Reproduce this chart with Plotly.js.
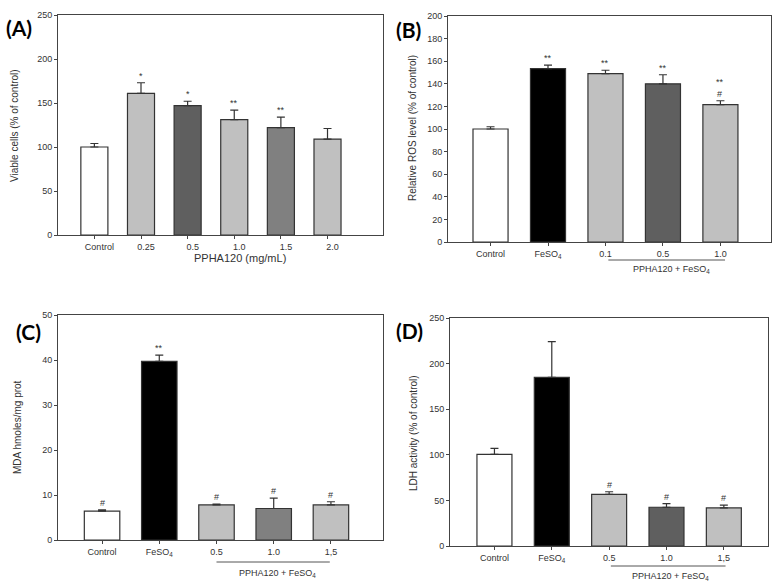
<!DOCTYPE html>
<html>
<head>
<meta charset="utf-8">
<script src="https://cdn.plot.ly/plotly-3.0.1.min.js"></script>
<style>html,body{margin:0;padding:0;background:#fff;}#chart{width:779px;height:587px;}</style>
</head>
<body>
<div id="chart"></div>
<script>
// ---------- data ----------
const catsA = ['Control', '0.25', '0.5', '1.0', '1.5', '2.0'];
const valsA = [100, 161, 147, 131, 122, 109];
const errA  = [4, 12, 5, 11, 12, 12];
const sigA  = ['', '*', '*', '**', '**', ''];

const catsB = ['Control', 'FeSO<sub>4</sub>', '0.1', '0.5', '1.0'];
const valsB = [100, 153.5, 149, 140, 121.5];
const errB  = [2, 3, 3, 8, 3.5];
const sigB  = ['', '**', '**', '**', '**<br>#'];

const catsC = ['Control', 'FeSO<sub>4</sub>', '0.5', '1.0', '1,5'];
const valsC = [6.4, 39.7, 7.8, 7.0, 7.8];
const errC  = [0.3, 1.4, 0.2, 2.3, 0.7];
const sigC  = ['#', '**', '#', '#', '#'];

const catsD = ['Control', 'FeSO<sub>4</sub>', '0.5', '1.0', '1,5'];
const valsD = [100.4, 185, 56.5, 42.5, 41.8];
const errD  = [6.6, 39, 3, 4, 3];
const sigD  = ['', '', '#', '#', '#'];

// ---------- styles ----------
const W = '#ffffff', K = '#000000', LG = '#c0c0c0', DG = '#5f5f5f', MG = '#808080';
const colA = [W, LG, DG, LG, MG, LG];
const colB = [W, K, LG, DG, LG];
const colC = [W, K, LG, MG, LG];
const colD = [W, K, LG, DG, LG];

const FONT = 'Liberation Sans, Arial, sans-serif';
const TXT = '#333333';
const LINE = '#444444';
const PW = 779, PH = 587;

function idx(a) { return a.map((_, i) => i); }

function barTrace(cats, vals, errs, cols, width, xa, ya) {
  return {
    type: 'bar', x: idx(cats), y: vals, width: width,
    xaxis: xa, yaxis: ya,
    marker: {color: cols, line: {color: '#333333', width: 1.2}},
    error_y: {type: 'data', array: errs, arrayminus: errs.map(() => 0), symmetric: false,
              color: '#333333', thickness: 1.2, width: 4},
    hoverinfo: 'skip', showlegend: false
  };
}

// panel frames in pixels: [left, right, top, bottom]
function dom(l, r, t, b) { return {x: [l / PW, r / PW], y: [1 - b / PH, 1 - t / PH]}; }
const dA = dom(58, 383, 15, 235);
const dB = dom(448, 771, 16, 242);
const dC = dom(58, 383, 315, 540);
const dD = dom(450, 768, 318, 546);

function xax(d, cats, range, anchor, shift) {
  return {domain: d.x, anchor: anchor, range: range, tickvals: idx(cats), ticktext: cats,
          showline: true, mirror: true, linecolor: LINE, linewidth: 1,
          ticks: 'outside', ticklen: 3, tickcolor: LINE, showgrid: false, zeroline: false,
          ticklabelshift: shift || 0,
          tickfont: {family: FONT, size: 9, color: TXT}, fixedrange: true};
}
function yax(d, range, dtick, anchor) {
  return {domain: d.y, anchor: anchor, range: range, dtick: dtick, tick0: 0,
          showline: true, mirror: true, linecolor: LINE, linewidth: 1,
          ticks: 'outside', ticklen: 3, tickcolor: LINE, showgrid: false, zeroline: false,
          tickfont: {family: FONT, size: 9, color: TXT}, fixedrange: true};
}

const data = [
  barTrace(catsA, valsA, errA, colA, 0.58, 'x', 'y'),
  barTrace(catsB, valsB, errB, colB, 0.61, 'x2', 'y2'),
  barTrace(catsC, valsC, errC, colC, 0.62, 'x3', 'y3'),
  barTrace(catsD, valsD, errD, colD, 0.61, 'x4', 'y4')
];

const annotations = [];
function sigAnn(sig, vals, errs, xr, yr) {
  sig.forEach((s, i) => {
    if (!s) return;
    annotations.push({xref: xr, yref: yr, x: i, y: vals[i] + errs[i], text: s,
      showarrow: false, yanchor: 'bottom', yshift: 0,
      font: {family: FONT, size: 9, color: TXT}});
  });
}
sigAnn(sigA, valsA, errA, 'x', 'y');
sigAnn(sigB, valsB, errB, 'x2', 'y2');
sigAnn(sigC, valsC, errC, 'x3', 'y3');
sigAnn(sigD, valsD, errD, 'x4', 'y4');

function pt(px, py) { return {x: px / PW, y: 1 - py / PH}; }
function paperText(px, py, text, opts) {
  const p = pt(px, py);
  annotations.push(Object.assign({xref: 'paper', yref: 'paper', x: p.x, y: p.y, text: text,
    showarrow: false, xanchor: 'center', yanchor: 'middle',
    font: {family: FONT, size: 10, color: TXT}}, opts || {}));
}
// panel letters
const letterFont = {family: 'Lato, Liberation Sans, sans-serif', size: 21, color: '#000000', weight: 'bold'};
paperText(19, 27, '<b>(A)</b>', {font: letterFont});
paperText(408, 29, '<b>(B)</b>', {font: letterFont});
paperText(28, 331, '<b>(C)</b>', {font: letterFont});
paperText(409, 330, '<b>(D)</b>', {font: letterFont});
// y-axis titles
paperText(15, 126, 'Viable cells (% of control)', {textangle: -90});
paperText(413, 128, 'Relative ROS level (% of control)', {textangle: -90});
paperText(17, 427, 'MDA hmoles/mg prot', {textangle: -90});
paperText(413, 433, 'LDH activity (% of control)', {textangle: -90});
// x-axis titles
paperText(240, 258, 'PPHA120 (mg/mL)', {font: {family: FONT, size: 11, color: TXT}});
paperText(671, 269, 'PPHA120 + FeSO<sub>4</sub>', {font: {family: FONT, size: 9, color: TXT}});
paperText(277, 573, 'PPHA120 + FeSO<sub>4</sub>', {font: {family: FONT, size: 9, color: TXT}});
paperText(670, 576, 'PPHA120 + FeSO<sub>4</sub>', {font: {family: FONT, size: 9, color: TXT}});

// group brackets under treated groups (x in data units, y in paper)
const shapes = [
  {type: 'line', xref: 'x2', yref: 'paper', x0: 2.05, x1: 4.08, y0: 1 - 260 / PH, y1: 1 - 260 / PH, line: {color: '#555555', width: 1}},
  {type: 'line', xref: 'x3', yref: 'paper', x0: 2.0, x1: 3.98, y0: 1 - 562 / PH, y1: 1 - 562 / PH, line: {color: '#555555', width: 1}},
  {type: 'line', xref: 'x4', yref: 'paper', x0: 2.03, x1: 4.03, y0: 1 - 566 / PH, y1: 1 - 566 / PH, line: {color: '#555555', width: 1}}
];

const layout = {
  width: PW, height: PH,
  margin: {l: 0, r: 0, t: 0, b: 0},
  paper_bgcolor: '#ffffff', plot_bgcolor: '#ffffff',
  showlegend: false,
  xaxis:  xax(dA, catsA, [-0.78, 6.19], 'y', 5),
  yaxis:  yax(dA, [0, 250], 50, 'x'),
  xaxis2: xax(dB, catsB, [-0.74, 4.88], 'y2', 0),
  yaxis2: yax(dB, [0, 200], 20, 'x2'),
  xaxis3: xax(dC, catsC, [-0.77, 4.91], 'y3', 0),
  yaxis3: yax(dC, [0, 50], 10, 'x3'),
  xaxis4: xax(dD, catsD, [-0.775, 4.77], 'y4', 0),
  yaxis4: yax(dD, [0, 250], 50, 'x4'),
  annotations: annotations,
  shapes: shapes
};

Plotly.newPlot('chart', data, layout, {displayModeBar: false, staticPlot: true});
</script>
</body>
</html>
